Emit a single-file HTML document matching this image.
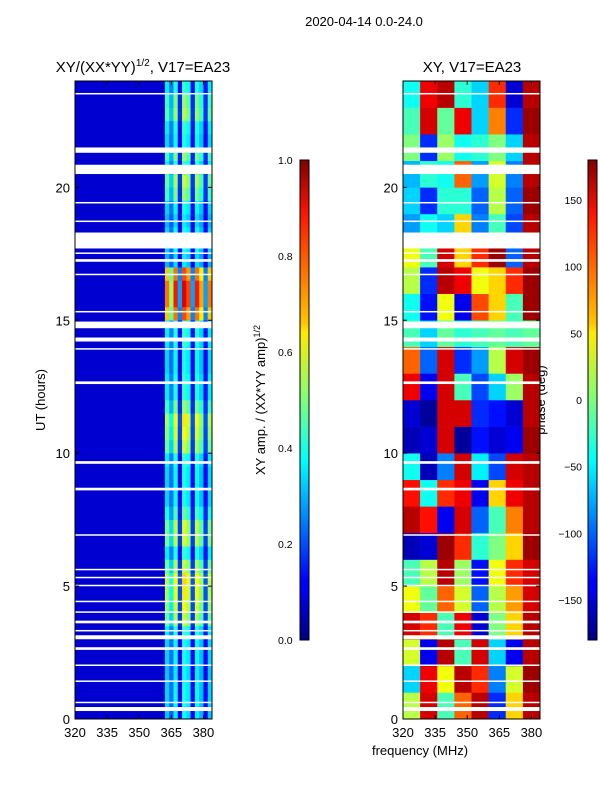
<!DOCTYPE html>
<html><head><meta charset="utf-8">
<style>
body{margin:0;background:#fff;font-family:"Liberation Sans",sans-serif;}
svg text{font-family:"Liberation Sans",sans-serif;fill:#000;}
</style></head>
<body>
<svg id="fig" width="600" height="800" xmlns="http://www.w3.org/2000/svg">
<defs>
<linearGradient id="jet" x1="0" y1="1" x2="0" y2="0">
<stop offset="0" stop-color="#00007f"/><stop offset="0.11" stop-color="#0000ff"/>
<stop offset="0.125" stop-color="#0000ff"/><stop offset="0.34" stop-color="#00dcff"/>
<stop offset="0.375" stop-color="#00ffff"/><stop offset="0.5" stop-color="#7dff7a"/>
<stop offset="0.64" stop-color="#ffea00"/><stop offset="0.66" stop-color="#ffc400"/>
<stop offset="0.89" stop-color="#ff1300"/><stop offset="1" stop-color="#7f0000"/>
</linearGradient>
</defs>
<text x="364" y="26" font-size="13" text-anchor="middle">2020-04-14 0.0-24.0</text>
<text x="143" y="72" font-size="15" text-anchor="middle">XY/(XX*YY)<tspan font-size="10" dy="-6">1/2</tspan><tspan dy="6">, V17=EA23</tspan></text>
<text x="472" y="72" font-size="15" text-anchor="middle">XY, V17=EA23</text>
<text transform="translate(45,400) rotate(-90)" font-size="13" text-anchor="middle">UT (hours)</text>
<text x="420" y="755" font-size="13" text-anchor="middle">frequency (MHz)</text>
<text transform="translate(265,400) rotate(-90)" font-size="13" text-anchor="middle">XY amp. / (XX*YY amp)<tspan font-size="9" dy="-5">1/2</tspan></text>
<text transform="translate(545,400) rotate(-90)" font-size="13" text-anchor="middle">phase (deg)</text>
<g id="ampPanel"></g>
<g id="phPanel"></g>
<g id="axes"></g>
<rect x="300" y="160" width="9" height="480" fill="url(#jet)" stroke="#000" stroke-width="1"/>
<rect x="588" y="160" width="9" height="480" fill="url(#jet)" stroke="#000" stroke-width="1"/>
</svg>
<script>
// ---- data ----
const freqTicks=[320,335,350,365,380];
const timeTicks=[0,5,10,15,20];
const ampTicks=[0.0,0.2,0.4,0.6,0.8,1.0];
const phaseTicks=[-150,-100,-50,0,50,100,150];
// amplitude channel structure over 362-384 MHz (2 MHz bins)
const chanFactor=[0.8,0.55,0.9,0.3,0.95,0.85,0.3,0.9,0.75,0.3,0.8];
// row amplitude, 48 half-hour rows from 0h
const rowAmp=[0.4,0.42,0.42,0.4,0.42,0.42,0.45,0.6,0.65,0.68,0.7,0.6,0.45,0.62,0.62,0.5,0.42,0.42,0.42,0.45,0.6,0.65,0.68,0.55,0.45,0.45,0.42,0.42,0.45,0.45,0.85,0.95,0.95,0.85,0.38,0.42,0.42,0.38,0.42,0.55,0.6,0.45,0.55,0.42,0.45,0.58,0.55,0.45];
// phase (deg), 24 hourly rows x 8 columns (8 MHz bins from 320)
const phase=[
[20,150,-20,100,160,-120,60,160],[-60,140,40,160,120,-90,30,170],[30,-140,160,-20,150,-60,-140,160],
[150,120,-20,140,-150,0,60,160],[40,-10,100,30,-100,20,80,150],[-20,20,160,10,-130,40,120,150],
[-160,-150,170,120,-30,0,60,170],[160,130,-140,150,-100,-20,90,160],[130,-40,120,140,-140,60,140,160],
[-40,-160,-90,150,-50,-110,150,160],[-160,-150,150,-170,-130,-150,-140,170],[-150,-170,150,150,-120,-130,-150,160],
[140,-140,150,-20,-110,-60,10,160],[100,-100,150,-120,-80,20,150,170],[-20,-60,-10,-30,-20,-10,-20,-10],
[-40,-130,40,-140,110,60,-20,170],[20,-120,160,140,40,60,120,170],[40,-20,150,60,120,170,-100,160],
[-80,-40,-60,60,-90,-20,-110,160],[-60,-120,-30,-30,-100,20,-100,170],[-70,-30,-40,100,-80,30,-90,160],
[0,-120,10,-40,-30,0,-60,160],[-20,150,-10,140,-60,90,-120,170],[-40,140,160,-30,-60,120,-150,160]];
// flagged (blank) time ranges in hours
const gaps=[[0.3,0.45],[0.6,0.65],[1.4,1.45],[2.0,2.05],[2.6,2.7],[3.0,3.15],[3.3,3.35],[3.6,3.7],[4.0,4.05],[4.4,4.45],[5.0,5.05],[5.3,5.35],[5.6,5.65],[6.9,6.95],[8.6,8.7],[9.6,9.7],[12.6,12.7],[13.9,13.95],[14.2,14.35],[14.7,14.95],[15.3,15.35],[16.7,16.75],[17.2,17.3],[17.5,17.55],[17.7,18.3],[18.7,18.75],[19.4,19.45],[20.5,20.85],[21.3,21.5],[23.5,23.55]];
// ---- geometry ----
const NS="http://www.w3.org/2000/svg";
const Y0=719,Y1=81,T=24;
const yOf=t=>Y0-(Y0-Y1)*t/T;
function xOf(px,f){return px+(f-320)*(137/64);}
function jet(v){v=Math.max(0,Math.min(1,v));
 const r=Math.min(4*v-1.5,-4*v+4.5),g=Math.min(4*v-0.5,-4*v+3.5),b=Math.min(4*v+0.5,-4*v+2.5);
 const c=x=>Math.round(255*Math.max(0,Math.min(1,x)));return`rgb(${c(r)},${c(g)},${c(b)})`;}
function mk(tag,attrs,parent){const e=document.createElementNS(NS,tag);for(const k in attrs)e.setAttribute(k,attrs[k]);parent.appendChild(e);return e;}
const amp=document.getElementById('ampPanel'),ph=document.getElementById('phPanel'),ax=document.getElementById('axes');
mk('rect',{x:75,y:81,width:137,height:638,fill:jet(0.08)},amp);
rowAmp.forEach((a,i)=>{chanFactor.forEach((c,j)=>{
 const f0=362+2*j,x=xOf(75,f0),y=yOf((i+1)*0.5);
 const r=mk('rect',{x:x,y:y,width:xOf(75,f0+2)-x+0.3,height:yOf(i*0.5)-y+0.3,fill:jet(a*c)},amp);
 
 
});});
phase.forEach((row,i)=>{row.forEach((p,j)=>{
 const f0=320+8*j,x=xOf(403,f0),y=yOf(i+1);
 const r=mk('rect',{x:x,y:y,width:xOf(403,f0+8)-x+0.3,height:yOf(i)-y+0.3,fill:jet((p+180)/360)},ph);
 
 
});});
[75,403].forEach(px=>gaps.forEach(g=>{
 const r=mk('rect',{x:px,y:yOf(g[1]),width:137,height:Math.max(1.5,yOf(g[0])-yOf(g[1])),fill:'#fff'},ax);
 
 
}));
[75,403].forEach((px,k)=>{
 const fr=mk('rect',{x:px,y:81,width:137,height:638,fill:'none',stroke:'#000','stroke-width':1},ax);
 
 
 freqTicks.forEach(f=>{const x=xOf(px,f);
  mk('line',{x1:x,x2:x,y1:719,y2:715,stroke:'#000'},ax);mk('line',{x1:x,x2:x,y1:81,y2:85,stroke:'#000'},ax);
  const t=mk('text',{x:x,y:737,'font-size':13,'text-anchor':'middle'},ax);t.textContent=f;
  
  });
 timeTicks.forEach(v=>{const y=yOf(v);
  mk('line',{x1:px,x2:px+4,y1:y,y2:y,stroke:'#000'},ax);mk('line',{x1:px+133,x2:px+137,y1:y,y2:y,stroke:'#000'},ax);
  const t=mk('text',{x:px-5,y:y+5,'font-size':13,'text-anchor':'end'},ax);t.textContent=v;
  
  });
});
ampTicks.forEach(v=>{const y=640-480*v;
 mk('line',{x1:305,x2:309,y1:y,y2:y,stroke:'#000'},ax);
 const t=mk('text',{x:278,y:y+4,'font-size':10.5},ax);t.textContent=v.toFixed(1);
 
 });
phaseTicks.forEach(v=>{const y=400-480*v/360;
 mk('line',{x1:593,x2:597,y1:y,y2:y,stroke:'#000'},ax);
 const t=mk('text',{x:582,y:y+4,'font-size':10.5,'text-anchor':'end'},ax);t.textContent=v<0?'\u2212'+(-v):v;
 
 });
</script>
</body></html>
